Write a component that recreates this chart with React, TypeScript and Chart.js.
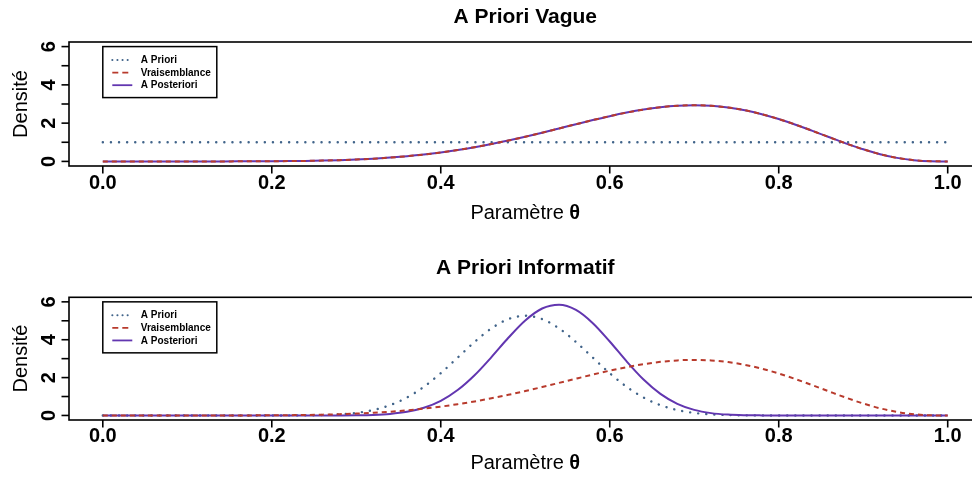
import React, { useEffect, useRef } from "react";
import { Chart, registerables } from "chart.js";
Chart.register(...registerables);

// ---------- data ----------
const theta = [
  0, 0.02, 0.04, 0.06, 0.08, 0.1, 0.12, 0.14, 0.16, 0.18, 0.2, 0.22, 0.24, 0.26, 0.28, 0.3, 0.32,
  0.34, 0.36, 0.38, 0.4, 0.42, 0.44, 0.46, 0.48, 0.5, 0.52, 0.54, 0.56, 0.58, 0.6, 0.62, 0.64, 0.66,
  0.68, 0.7, 0.72, 0.74, 0.76, 0.78, 0.8, 0.82, 0.84, 0.86, 0.88, 0.9, 0.92, 0.94, 0.96, 0.98, 1.0,
];

const vaguePrior = [
  1, 1, 1, 1, 1, 1, 1, 1, 1, 1, 1, 1, 1, 1, 1, 1, 1, 1, 1, 1, 1, 1, 1, 1, 1, 1,
  1, 1, 1, 1, 1, 1, 1, 1, 1, 1, 1, 1, 1, 1, 1, 1, 1, 1, 1, 1, 1, 1, 1, 1, 1,
];

const vagueLikelihood = [
  0, 0, 0, 0, 0, 0.0001, 0.0003, 0.0009, 0.0021, 0.0045, 0.0087, 0.0156, 0.0266, 0.043, 0.0665,
  0.099, 0.1426, 0.1993, 0.2712, 0.3599, 0.4671, 0.5937, 0.7401, 0.9059, 1.0896, 1.2891, 1.5008,
  1.7203, 1.942, 2.1593, 2.3649, 2.5508, 2.7085, 2.8302, 2.9079, 2.935, 2.9065, 2.8191, 2.6724,
  2.4689, 2.2146, 1.9191, 1.5955, 1.2603, 0.9322, 0.6313, 0.377, 0.1849, 0.0635, 0.0092, 0,
];

const vaguePosterior = [
  0, 0, 0, 0, 0, 0.0001, 0.0003, 0.0009, 0.0021, 0.0045, 0.0087, 0.0156, 0.0266, 0.043, 0.0665,
  0.099, 0.1426, 0.1993, 0.2712, 0.3599, 0.4671, 0.5937, 0.7401, 0.9059, 1.0896, 1.2891, 1.5008,
  1.7203, 1.942, 2.1593, 2.3649, 2.5508, 2.7085, 2.8302, 2.9079, 2.935, 2.9065, 2.8191, 2.6724,
  2.4689, 2.2146, 1.9191, 1.5955, 1.2603, 0.9322, 0.6313, 0.377, 0.1849, 0.0635, 0.0092, 0,
];

const infoPrior = [
  0, 0, 0, 0, 0, 0, 0, 0, 0, 0, 0.0004, 0.0019, 0.007, 0.0215, 0.0574, 0.1352, 0.2854, 0.5444,
  0.9475, 1.514, 2.2329, 3.0527, 3.8807, 4.5987, 5.0885, 5.2625, 5.0885, 4.5987, 3.8807, 3.0527,
  2.2329, 1.514, 0.9475, 0.5444, 0.2854, 0.1352, 0.0574, 0.0215, 0.007, 0.0019, 0.0004, 0, 0, 0,
  0, 0, 0, 0, 0, 0, 0,
];

const infoLikelihood = [
  0, 0, 0, 0, 0, 0.0001, 0.0003, 0.0009, 0.0021, 0.0045, 0.0087, 0.0156, 0.0266, 0.043, 0.0665,
  0.099, 0.1426, 0.1993, 0.2712, 0.3599, 0.4671, 0.5937, 0.7401, 0.9059, 1.0896, 1.2891, 1.5008,
  1.7203, 1.942, 2.1593, 2.3649, 2.5508, 2.7085, 2.8302, 2.9079, 2.935, 2.9065, 2.8191, 2.6724,
  2.4689, 2.2146, 1.9191, 1.5955, 1.2603, 0.9322, 0.6313, 0.377, 0.1849, 0.0635, 0.0092, 0,
];

const infoPosterior = [
  0, 0, 0, 0, 0, 0, 0, 0, 0, 0, 0, 0, 0, 0.0007, 0.0028, 0.0099, 0.0301, 0.0802, 0.1901, 0.4031,
  0.7715, 1.341, 2.124, 3.081, 4.101, 5.017, 5.649, 5.851, 5.575, 4.875, 3.906, 2.856, 1.898, 1.14,
  0.6137, 0.2936, 0.1234, 0.0449, 0.0139, 0.0036, 0.0007, 0, 0, 0, 0, 0, 0, 0, 0, 0, 0,
];

const xTicks = [0, 0.2, 0.4, 0.6, 0.8, 1.0];
const yTicks = [0, 1, 2, 3, 4, 5, 6];
const yTickLabels = ["0", "", "2", "", "4", "", "6"];
const legendLabels = ["A Priori", "Vraisemblance", "A Posteriori"];
const titles = ["A Priori Vague", "A Priori Informatif"];
const xAxisTitleText = "Paramètre ";
const xAxisTitleSymbol = "θ";
const yAxisTitle = "Densité";

// ---------- styles / layout ----------
const W = 990;
const H = 477;
const FONT = '"Liberation Sans", Arial, Helvetica, sans-serif';
const PRIOR_COLOR = "#41648a";
const LIK_COLOR = "#b83a2c";
const POST_COLOR = "#6236b0";

const panels = [
  { title: titles[0], prior: vaguePrior, lik: vagueLikelihood, post: vaguePosterior,
    boxTop: 42, boxBottom: 166, titleY: 23, tickY: 189, xTitleY: 219 },
  { title: titles[1], prior: infoPrior, lik: infoLikelihood, post: infoPosterior,
    boxTop: 297.3, boxBottom: 420, titleY: 273.5, tickY: 442, xTitleY: 469 },
];

function pts(arr: number[]) {
  return theta.map((t, i) => ({ x: t, y: arr[i] }));
}

function makeDecor(p: any) {
  return {
    id: "rDecor",
    afterDraw(chart: any) {
      const ctx = chart.ctx as CanvasRenderingContext2D;
      const { left, right, top, bottom } = chart.chartArea;
      const xs = chart.scales.x;
      const ys = chart.scales.y;
      ctx.save();
      ctx.strokeStyle = "#000";
      ctx.fillStyle = "#000";
      ctx.lineWidth = 1.6;
      ctx.setLineDash([]);
      ctx.strokeRect(left, top, right - left, bottom - top);

      // x ticks
      ctx.font = `bold 20px ${FONT}`;
      ctx.textAlign = "center";
      ctx.textBaseline = "alphabetic";
      xTicks.forEach((v) => {
        const px = xs.getPixelForValue(v);
        ctx.beginPath();
        ctx.moveTo(px, bottom);
        ctx.lineTo(px, bottom + 7.5);
        ctx.stroke();
        ctx.fillText(v.toFixed(1), px, p.tickY);
      });

      // y ticks
      yTicks.forEach((v, i) => {
        const py = ys.getPixelForValue(v);
        ctx.beginPath();
        ctx.moveTo(left, py);
        ctx.lineTo(left - 7.5, py);
        ctx.stroke();
        if (yTickLabels[i]) {
          ctx.save();
          ctx.translate(left - 14.5, py);
          ctx.rotate(-Math.PI / 2);
          ctx.fillText(yTickLabels[i], 0, 0);
          ctx.restore();
        }
      });

      // main title
      ctx.font = `bold 21px ${FONT}`;
      ctx.fillText(p.title, (left + right) / 2, p.titleY);

      // x axis title: regular text + bold theta
      const cx = (left + right) / 2;
      ctx.font = `20px ${FONT}`;
      const w1 = ctx.measureText(xAxisTitleText).width;
      ctx.font = `bold 20px ${FONT}`;
      const w2 = ctx.measureText(xAxisTitleSymbol).width;
      const x0 = cx - (w1 + w2) / 2;
      ctx.textAlign = "left";
      ctx.font = `20px ${FONT}`;
      ctx.fillText(xAxisTitleText, x0, p.xTitleY);
      ctx.font = `bold 20px ${FONT}`;
      ctx.fillText(xAxisTitleSymbol, x0 + w1, p.xTitleY);
      ctx.textAlign = "center";

      // y axis title
      ctx.font = `20px ${FONT}`;
      ctx.save();
      ctx.translate(27, (top + bottom) / 2);
      ctx.rotate(-Math.PI / 2);
      ctx.fillText(yAxisTitle, 0, 0);
      ctx.restore();

      // legend at data (0, 6)
      const lx = xs.getPixelForValue(0);
      const ly = ys.getPixelForValue(6);
      const lw = 114;
      const lh = 51;
      ctx.fillStyle = "#fff";
      ctx.fillRect(lx, ly, lw, lh);
      ctx.lineWidth = 1.5;
      ctx.strokeStyle = "#000";
      ctx.strokeRect(lx, ly, lw, lh);
      const rows = [13.3, 26, 38.6];
      const cols = [PRIOR_COLOR, LIK_COLOR, POST_COLOR];
      const dashes = [[0.1, 5], [6, 4], []];
      ctx.font = `bold 10px ${FONT}`;
      ctx.textAlign = "left";
      ctx.textBaseline = "middle";
      rows.forEach((dy, i) => {
        const y = ly + dy;
        ctx.save();
        ctx.strokeStyle = cols[i];
        ctx.lineWidth = i === 0 ? 2 : 1.8;
        ctx.lineCap = i === 0 ? "round" : "butt";
        ctx.setLineDash(dashes[i]);
        ctx.beginPath();
        ctx.moveTo(lx + 9.5, y);
        ctx.lineTo(lx + 29.5, y);
        ctx.stroke();
        ctx.restore();
        ctx.fillStyle = "#000";
        ctx.fillText(legendLabels[i], lx + 38, y + 0.5);
      });
      ctx.restore();
    },
  };
}

function makeConfig(p: any): any {
  return {
    type: "line",
    data: {
      datasets: [
        {
          label: legendLabels[1], data: pts(p.lik), borderColor: LIK_COLOR, borderWidth: 2,
          borderDash: [5, 4], cubicInterpolationMode: "monotone", order: 0,
        },
        {
          label: legendLabels[2], data: pts(p.post), borderColor: POST_COLOR, borderWidth: 2,
          cubicInterpolationMode: "monotone", order: 1,
        },
        {
          label: legendLabels[0], data: pts(p.prior), borderColor: PRIOR_COLOR, borderWidth: 2.4,
          borderDash: [0.1, 8], borderCapStyle: "round", cubicInterpolationMode: "monotone", order: 2,
        },
      ],
    },
    options: {
      animation: false,
      responsive: false,
      devicePixelRatio: 1,
      layout: { padding: { left: 69, right: W - 981.5, top: p.boxTop, bottom: H - p.boxBottom } },
      elements: { point: { radius: 0 } },
      scales: {
        x: { type: "linear", min: -0.04, max: 1.04, display: false },
        y: { type: "linear", min: -0.24, max: 6.24, display: false },
      },
      plugins: { legend: { display: false }, tooltip: { enabled: false }, title: { display: false } },
    },
    plugins: [makeDecor(p)],
  };
}

export default function App() {
  const ref1 = useRef<HTMLCanvasElement | null>(null);
  const ref2 = useRef<HTMLCanvasElement | null>(null);
  useEffect(() => {
    const charts: Chart[] = [];
    [ref1, ref2].forEach((r, i) => {
      if (r.current) charts.push(new Chart(r.current, makeConfig(panels[i])));
    });
    return () => charts.forEach((c) => c.destroy());
  }, []);
  const cs: React.CSSProperties = { position: "absolute", left: 0, top: 0, width: W, height: H };
  return (
    <div style={{ position: "fixed", left: 0, top: 0, width: 972, height: 477, overflow: "hidden", background: "#fff" }}>
      <canvas ref={ref1} width={W} height={H} style={cs} />
      <canvas ref={ref2} width={W} height={H} style={cs} />
    </div>
  );
}
